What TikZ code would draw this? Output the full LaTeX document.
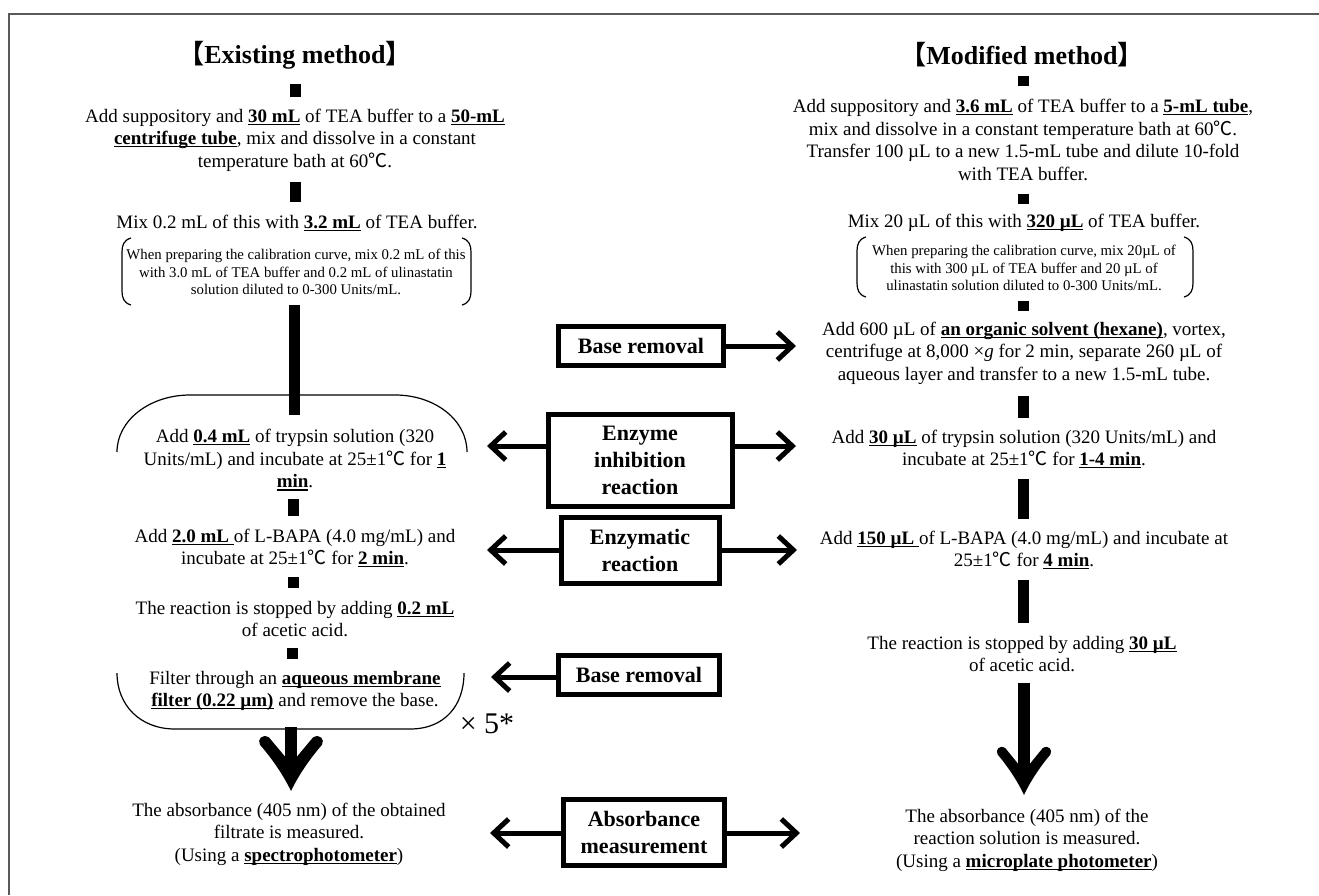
\documentclass[tikz,border=0pt]{standalone}
\usepackage{fontspec}
\setmainfont{Liberation Serif}
\newfontfamily\cjk{Noto Sans CJK JP}
\usetikzlibrary{arrows.meta}
\newcommand\myul[1]{{\setbox0\hbox{#1}\rlap{\rule[-2.6pt]{\wd0}{1.2pt}}\box0}}
\newcommand\bu[1]{\myul{\textbf{#1}}}
\newcommand\degC{{\cjk ℃}}
\newcommand\bighead[4]{%
  \fill[shift={(#1,#2)},xscale=#3,yscale=#4]
    (0,0) .. controls (-8,-16) and (-20,-32) .. (-31,-44)
    .. controls (-34,-49) and (-29,-55) .. (-22,-51)
    -- (0,-26) -- (22,-51)
    .. controls (29,-55) and (34,-49) .. (31,-44)
    .. controls (20,-32) and (8,-16) .. (0,0) -- cycle;}
\begin{document}
\begin{tikzpicture}[x=1pt,y=-1pt,
  txt/.style={align=center, font=\fontsize{19}{22.5}\selectfont, inner sep=0pt},
  small/.style={align=center, font=\fontsize{14.8}{17.5}\selectfont, inner sep=0pt},
  ttl/.style={font=\fontsize{26}{30}\selectfont\bfseries, inner sep=0pt},
  cbox/.style={draw, line width=5pt, align=center, font=\fontsize{22}{27}\selectfont\bfseries, inner sep=0pt},
  harrow/.style={line width=5pt, -{Straight Barb[length=15pt,width=28pt]}},
  brk/.style={line width=1.2pt}]
\useasboundingbox (0,0) rectangle (1319,895);
\fill[white] (0,0) rectangle (1319,895);
\draw[black!65, line width=1.5pt] (9,895) -- (9,14) -- (1319,14);

% titles
\node[ttl] (tL) at (295,55) {{\cjk\bfseries 【}Existing method{\cjk\bfseries 】}};
\node[ttl] (tR) at (1022,55) {{\cjk\bfseries 【}Modified method{\cjk\bfseries 】}};

% left column
\node[txt] (L1) at (295,140) {Add suppository and \bu{30 mL} of TEA buffer to a \bu{50-mL}\\ \bu{centrifuge tube}, mix and dissolve in a constant\\ temperature bath at 60\degC.};
\node[txt] (L2) at (297,223) {Mix 0.2 mL of this with \bu{3.2 mL} of TEA buffer.};
\node[small] (Lp) at (296,272) {When preparing the calibration curve, mix 0.2 mL of this\\ with 3.0 mL of TEA buffer and 0.2 mL of ulinastatin\\ solution diluted to 0-300 Units/mL.};
\node[txt] (L3) at (295,460) {Add \bu{0.4 mL} of trypsin solution (320\\ Units/mL) and incubate at 25±1\degC{} for \bu{1}\\ \bu{min}.};
\node[txt] (L4) at (295,548) {Add \bu{2.0 mL\ }of L-BAPA (4.0 mg/mL) and\\ incubate at 25±1\degC{} for \bu{2 min}.};
\node[txt] (L5) at (295,619) {The reaction is stopped by adding \bu{0.2 mL}\\ of acetic acid.};
\node[txt] (L6) at (295,691) {Filter through an \bu{aqueous membrane}\\ \bu{filter (0.22 µm)} and remove the base.};
\node[font=\fontsize{30}{32}\selectfont, inner sep=0pt] (x5) at (487,724) {× 5*};
\node[txt] (L7) at (289,834) {The absorbance (405 nm) of the obtained\\ filtrate is measured.\\ (Using a \bu{spectrophotometer})};

% right column
\node[txt] (R1) at (1023,140) {Add suppository and \bu{3.6 mL} of TEA buffer to a \bu{5-mL tube},\\ mix and dissolve in a constant temperature bath at 60\degC.\\ Transfer 100 µL to a new 1.5-mL tube and dilute 10-fold\\ with TEA buffer.};
\node[txt] (R2) at (1024,223) {Mix 20 µL of this with \bu{320 µL} of TEA buffer.};
\node[small] (Rp) at (1024,268) {When preparing the calibration curve, mix 20µL of\\ this with 300 µL of TEA buffer and 20 µL of\\ ulinastatin solution diluted to 0-300 Units/mL.};
\node[txt] (R3) at (1024,353) {Add 600 µL of \bu{an organic solvent (hexane)}, vortex,\\ centrifuge at 8,000 ×\textit{g} for 2 min, separate 260 µL of\\ aqueous layer and transfer to a new 1.5-mL tube.};
\node[txt] (R4) at (1024,449) {Add \bu{30 µL} of trypsin solution (320 Units/mL) and\\ incubate at 25±1\degC{} for \bu{1-4 min}.};
\node[txt] (R5) at (1024,550) {Add \bu{150 µL\ }of L-BAPA (4.0 mg/mL) and incubate at\\ 25±1\degC{} for \bu{4 min}.};
\node[txt] (R6) at (1022,654) {The reaction is stopped by adding \bu{30 µL}\\ of acetic acid.};
\node[txt] (R7) at (1027,840) {The absorbance (405 nm) of the\\ reaction solution is measured.\\ (Using a \bu{microplate photometer})};

% brackets
\draw[brk] (131,238) .. controls (124,240) and (122,245) .. (122,252) -- (122,291) .. controls (122,298) and (124,303) .. (131,305);
\draw[brk] (462,238) .. controls (469,240) and (471,245) .. (471,252) -- (471,291) .. controls (471,298) and (469,303) .. (462,305);
\draw[brk] (866,237) .. controls (859,239) and (857,244) .. (857,251) -- (857,283) .. controls (857,290) and (859,295) .. (866,297);
\draw[brk] (1184,237) .. controls (1191,239) and (1193,244) .. (1193,251) -- (1193,283) .. controls (1193,290) and (1191,295) .. (1184,297);
\draw[brk] (117,452) .. controls (117,420) and (150,395) .. (190,395) -- (395,395) .. controls (435,395) and (467,420) .. (467,452);
\draw[brk] (117,673) .. controls (117,705) and (140,729) .. (175,729) -- (410,729) .. controls (445,729) and (464,705) .. (464,673);

% left bars
\fill (290,84) rectangle (301,97);
\fill (290,182) rectangle (301,202);
\fill (289,305) rectangle (300,415);
\fill (288,499) rectangle (299,516);
\fill (288,577) rectangle (299,588);
\fill (287,648) rectangle (298,659);
\fill (285,727) rectangle (297,770);
\bighead{291}{791}{1}{1.05}

% right bars
\fill (1018,76) rectangle (1029,86);
\fill (1018,194) rectangle (1029,204);
\fill (1018,301) rectangle (1029,311);
\fill (1018,396) rectangle (1029,418);
\fill (1018,479) rectangle (1029,519);
\fill (1018,580) rectangle (1029,623);
\fill (1018,683) rectangle (1030,775);
\bighead{1024}{795}{0.85}{0.92}

% centre boxes
\node[cbox, minimum width=165pt, minimum height=39pt] (cb1) at (641,346) {Base removal};
\node[cbox, minimum width=184pt, minimum height=92pt] (cb2) at (640,460) {Enzyme\\inhibition\\reaction};
\node[cbox, minimum width=158pt, minimum height=66pt] (cb3) at (640,550) {Enzymatic\\reaction};
\node[cbox, minimum width=161pt, minimum height=39pt] (cb4) at (639,675) {Base removal};
\node[cbox, minimum width=161pt, minimum height=66pt] (cb5) at (644,832) {Absorbance\\measurement};

\coordinate (a1r) at (796,346);
\coordinate (a2l) at (487,446);
\coordinate (a2r) at (796,446);
\coordinate (a3l) at (487,550);
\coordinate (a3r) at (797,550);
\coordinate (a4l) at (491,677);
\coordinate (a5l) at (490,833);
\coordinate (a5r) at (800,833);
\draw[harrow] (cb1.east) -- (a1r);
\draw[harrow] (cb2.west |- a2l) -- (a2l);
\draw[harrow] (cb2.east |- a2r) -- (a2r);
\draw[harrow] (cb3.west) -- (a3l);
\draw[harrow] (cb3.east) -- (a3r);
\draw[harrow] (cb4.west |- a4l) -- (a4l);
\draw[harrow] (cb5.west |- a5l) -- (a5l);
\draw[harrow] (cb5.east |- a5r) -- (a5r);
\end{tikzpicture}
\end{document}
